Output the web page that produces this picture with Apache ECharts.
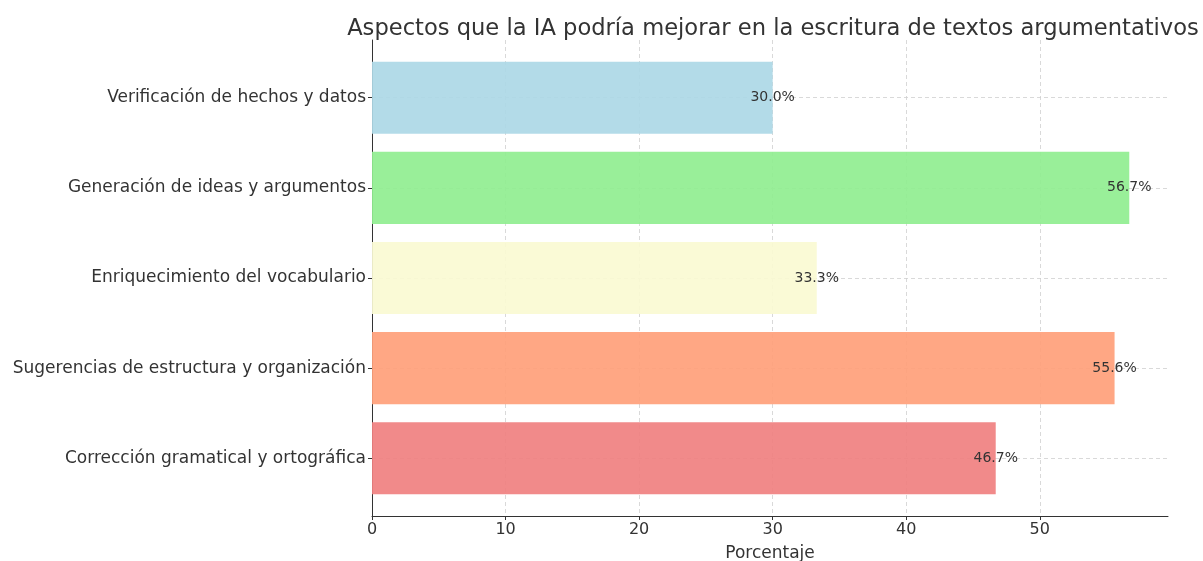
<!DOCTYPE html>
<html>
<head>
<meta charset="utf-8">
<script src="https://cdn.jsdelivr.net/npm/echarts@6/dist/echarts.min.js"></script>
<style>
  html, body { margin: 0; padding: 0; background: #fff; }
  #chart { width: 1203px; height: 561px; }
</style>
</head>
<body>
<div id="chart"></div>
<script>
// bottom to top, like matplotlib barh
const categories = [
  'Corrección gramatical y ortográfica',
  'Sugerencias de estructura y organización',
  'Enriquecimiento del vocabulario',
  'Generación de ideas y argumentos',
  'Verificación de hechos y datos'
]
const values = [46.7, 55.6, 33.3, 56.7, 30.0]
const barColors = ['#F08080', '#FFA07A', '#FAFAD2', '#90EE90', '#ADD8E6']
const xTicks = [0, 10, 20, 30, 40, 50]
const yTicks = [0, 1, 2, 3, 4]

const font = '"DejaVu Sans", sans-serif'
const chart = echarts.init(document.getElementById('chart'))

const gridLine = { show: true, lineStyle: { color: '#cfcfcf', type: [4, 3], width: 0.8 } }

chart.setOption({
  animation: false,
  backgroundColor: '#fff',
  title: {
    text: 'Aspectos que la IA podría mejorar en la escritura de textos argumentativos',
    left: 768,
    textAlign: 'center',
    top: 13,
    textStyle: { fontFamily: font, fontSize: 22.6, fontWeight: 'normal', color: '#333' }
  },
  grid: { left: 372, right: 35, top: 40, bottom: 45, outerBoundsMode: 'none', containLabel: false },
  xAxis: {
    type: 'value',
    min: 0,
    max: 59.6,
    name: 'Porcentaje',
    nameLocation: 'middle',
    nameGap: 29,
    nameTextStyle: { fontFamily: font, fontSize: 17, color: '#333' },
    axisLine: { show: true, onZero: false, lineStyle: { color: '#333', width: 1 } },
    axisTick: { show: true, customValues: xTicks, length: 4, lineStyle: { color: '#333' } },
    axisLabel: { customValues: xTicks, fontFamily: font, fontSize: 16, color: '#333', margin: 6 },
    splitLine: gridLine
  },
  yAxis: {
    type: 'value',
    min: -0.64,
    max: 4.64,
    axisLine: { show: true, onZero: false, lineStyle: { color: '#333', width: 1 } },
    axisTick: { show: true, customValues: yTicks, length: 4, lineStyle: { color: '#333' } },
    axisLabel: {
      customValues: yTicks,
      fontFamily: font, fontSize: 17, color: '#333', margin: 6,
      formatter: v => categories[Math.round(v)] || ''
    },
    splitLine: gridLine
  },
  series: [{
    type: 'custom',
    clip: false,
    data: values.map((v, i) => [i, v]),
    encode: { x: 1, y: 0 },
    renderItem: (params, api) => {
      const idx = api.value(0)
      const val = api.value(1)
      const start = api.coord([0, idx])
      const end = api.coord([val, idx])
      const h = api.size([0, 0.8])[1]
      return {
        type: 'group',
        children: [
          {
            type: 'rect',
            shape: { x: start[0], y: start[1] - h / 2, width: end[0] - start[0], height: h },
            style: { fill: barColors[idx], opacity: 0.92 }
          },
          {
            type: 'text',
            x: end[0],
            y: end[1],
            style: {
              text: val.toFixed(1) + '%',
              fontFamily: font, fontSize: 14, fill: '#333',
              align: 'center', verticalAlign: 'middle'
            }
          }
        ]
      }
    }
  }]
})
</script>
</body>
</html>
